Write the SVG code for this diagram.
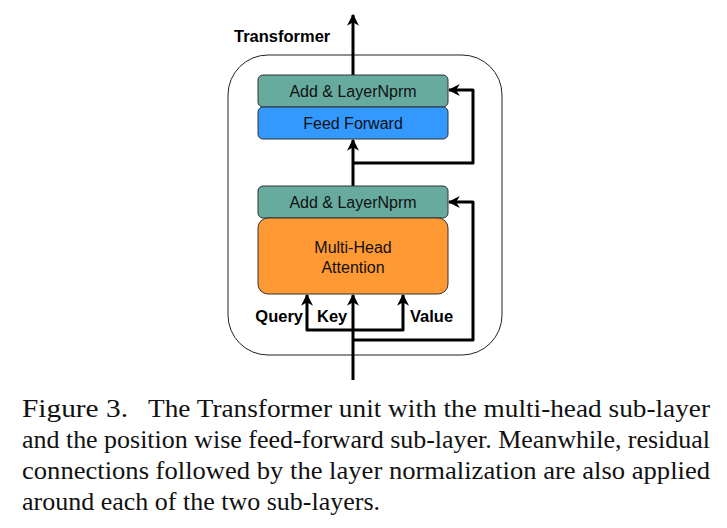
<svg xmlns="http://www.w3.org/2000/svg" width="727" height="528" viewBox="0 0 727 528">
<style>
.box{stroke:#333;stroke-width:1}
.lbl{font-family:"Liberation Sans",Arial,sans-serif;font-size:16px;fill:#111;text-anchor:middle}
.bold{font-family:"Liberation Sans",Arial,sans-serif;font-size:16.5px;font-weight:bold;fill:#000}
.cap{font-family:"Liberation Serif","Times New Roman",serif;font-size:25px;fill:#111}
.ln{fill:none;stroke:#000;stroke-width:3;stroke-linejoin:round}
</style>
<defs>
<marker id="ah" viewBox="0 0 10 10" refX="9" refY="5" markerWidth="4" markerHeight="4" orient="auto" markerUnits="strokeWidth">
<path d="M0,0 L10,5 L0,10 L3,5 Z" fill="#000"/>
</marker>
</defs>
<rect width="727" height="528" fill="#fff"/>
<g id="container">
<rect x="228" y="55" width="274" height="300" rx="40" ry="40" fill="none" stroke="#222" stroke-width="1"/>
<text class="bold" x="234" y="42">Transformer</text>
</g>
<g id="connectors">
<path class="ln" d="M353,75 V15" marker-end="url(#ah)"/>
<path class="ln" d="M353,186 V140" marker-end="url(#ah)"/>
<path class="ln" d="M353,163 H473 V90 H449" marker-end="url(#ah)"/>
<path class="ln" d="M353,380 V295" marker-end="url(#ah)"/>
<path class="ln" d="M353,340 H473 V202 H449" marker-end="url(#ah)"/>
<path class="ln" d="M353,330 H307 V295" marker-end="url(#ah)"/>
<path class="ln" d="M353,330 H403 V295" marker-end="url(#ah)"/>
</g>
<g id="addnorm2">
<rect class="box" x="258" y="75" width="190" height="32" rx="5" fill="#67AB9F"/>
<text class="lbl" x="353" y="97">Add &amp; LayerNprm</text>
</g>
<g id="feedforward">
<rect class="box" x="258" y="107" width="190" height="32" rx="5" fill="#3399FF"/>
<text class="lbl" x="353" y="129">Feed Forward</text>
</g>
<g id="addnorm1">
<rect class="box" x="258" y="186" width="190" height="32" rx="5" fill="#67AB9F"/>
<text class="lbl" x="353" y="208">Add &amp; LayerNprm</text>
</g>
<g id="mha">
<rect class="box" x="258" y="218" width="190" height="76" rx="10" fill="#FF9933"/>
<text class="lbl" x="353" y="253">Multi-Head</text>
<text class="lbl" x="353" y="273">Attention</text>
</g>
<g id="labels">
<text class="bold" x="303" y="322" text-anchor="end">Query</text>
<text class="bold" x="317" y="322">Key</text>
<text class="bold" x="410" y="322">Value</text>
</g>
<g id="caption">
<text class="cap" x="22" y="417" textLength="106" lengthAdjust="spacingAndGlyphs">Figure 3.</text>
<text class="cap" x="148" y="417" textLength="562" lengthAdjust="spacingAndGlyphs">The Transformer unit with the multi-head sub-layer</text>
<text class="cap" x="22" y="448" textLength="688" lengthAdjust="spacingAndGlyphs">and the position wise feed-forward sub-layer. Meanwhile, residual</text>
<text class="cap" x="22" y="479" textLength="688" lengthAdjust="spacingAndGlyphs">connections followed by the layer normalization are also applied</text>
<text class="cap" x="22" y="510" textLength="358" lengthAdjust="spacingAndGlyphs">around each of the two sub-layers.</text>
</g>
</svg>
